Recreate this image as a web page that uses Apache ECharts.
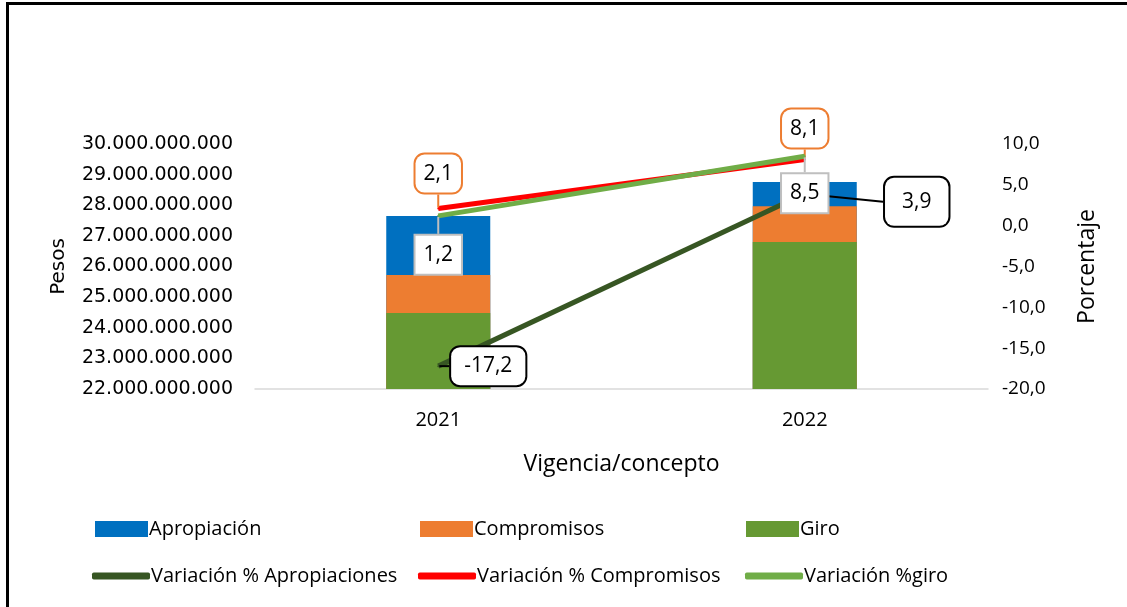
<!DOCTYPE html>
<html>
<head>
<meta charset="UTF-8">
<title>Vigencia/concepto</title>
<script src="https://cdn.jsdelivr.net/npm/echarts@6/dist/echarts.min.js"></script>
<style>
	body{margin:0;background:#fff;}
	#frame{position:absolute;left:6px;top:2px;width:1200px;height:700px;border-left:3px solid #000;border-top:3px solid #000;}
	#main{position:absolute;left:0;top:0;width:1127px;height:607px;}
</style>
</head>
<body>
<div id="frame"></div>
<div id="main"></div>
<script type="text/javascript">
	var years = ['2021', '2022'];
	var apropiacion = [27650000000, 28760000000];
	var compromisos = [25720000000, 27970000000];
	var giro = [24480000000, 26800000000];
	var varApropiaciones = [-17.2, 3.9];
	var varCompromisos = [2.1, 8.1];
	var varGiro = [1.2, 8.5];

	var fnt = 'Open Sans';
	function miles(v){
		return String(v).replace(/\B(?=(\d{3})+(?!\d))/g, '.');
	}
	function coma(v){
		return v.toFixed(1).replace('.', ',');
	}
	function callout(border, radius, pad){
		return {
			show: true, position: 'inside', color: '#000', fontFamily: fnt, fontSize: 21,
			backgroundColor: '#fff', borderColor: border, borderWidth: 2,
			borderRadius: radius, padding: pad,
			formatter: function(p){ return coma(p.value); }
		};
	}
	function legendBox(name, x, y, line){
		return {
			data: [name], left: x, top: y, icon: line ? 'roundRect' : 'rect',
			itemWidth: line ? 58 : 53, itemHeight: line ? 7 : 16, itemGap: 0,
			textStyle: {fontFamily: fnt, fontSize: 20, color: '#000', padding: [0, 0, 0, -4]}
		};
	}
	// la etiqueta de 2022 en apropiaciones es mas grande
	var apropData = varApropiaciones.map(function(v, i){
		return i === 1 ? {value: v, label: {padding: [14, 17, 13, 17]}} : v;
	});

	var myChart = echarts.init(document.getElementById('main'));
	var option = {
		animation: false,
		grid: {left: 255, right: 139, top: 144, bottom: 218},
		legend: [
			legendBox('Apropiación', 90, 514, false),
			legendBox('Compromisos', 415, 514, false),
			legendBox('Giro', 741, 514, false),
			legendBox('Variación % Apropiaciones', 87, 561, true),
			legendBox('Variación % Compromisos', 413, 561, true),
			legendBox('Variación %giro', 740, 561, true)
		],
		xAxis: {
			type: 'category', data: years,
			name: 'Vigencia/concepto', nameLocation: 'middle', nameGap: 64,
			nameTextStyle: {fontFamily: fnt, fontSize: 23, color: '#000'},
			axisLine: {onZero: false, lineStyle: {color: '#d9d9d9', width: 1.5}},
			axisTick: {show: false},
			axisLabel: {fontFamily: fnt, fontSize: 20, color: '#000', margin: 21}
		},
		yAxis: [{
			type: 'value', min: 22000000000, max: 30000000000, interval: 1000000000,
			name: 'Pesos', nameLocation: 'middle', nameRotate: 90, nameGap: 186,
			nameTextStyle: {fontFamily: 'DejaVu Sans', fontSize: 20, color: '#000'},
			splitLine: {show: false},
			axisLabel: {fontFamily: 'DejaVu Sans', fontSize: 19, color: '#000', margin: 22, formatter: miles}
		}, {
			type: 'value', min: -20, max: 10, interval: 5,
			name: 'Porcentaje', nameLocation: 'middle', nameRotate: 90, nameGap: 88,
			nameTextStyle: {fontFamily: fnt, fontSize: 23, color: '#000'},
			splitLine: {show: false},
			axisLabel: {fontFamily: fnt, fontSize: 19, color: '#000', margin: 14, formatter: coma}
		}],
		series: [
			{name: 'Apropiación', type: 'bar', data: apropiacion, barWidth: 104, barGap: '-100%',
				itemStyle: {color: '#0070c0'}},
			{name: 'Compromisos', type: 'bar', data: compromisos, barWidth: 104, barGap: '-100%',
				itemStyle: {color: '#ed7d31'}},
			{name: 'Giro', type: 'bar', data: giro, barWidth: 104, barGap: '-100%',
				itemStyle: {color: '#669933'}},
			{name: 'Variación % Apropiaciones', type: 'line', yAxisIndex: 1, data: apropData,
				symbol: 'circle', symbolSize: 2, z: 5,
				lineStyle: {color: '#375623', width: 5}, itemStyle: {color: '#375623'},
				label: callout('#000', 9, [9, 13, 8, 13]),
				labelLine: {show: true, lineStyle: {color: '#000', width: 2}},
				labelLayout: function(p){ return p.dataIndex === 0 ? {dx: 50, dy: 0} : {dx: 112, dy: 8}; }},
			{name: 'Variación % Compromisos', type: 'line', yAxisIndex: 1, data: varCompromisos,
				symbol: 'circle', symbolSize: 2, z: 6,
				lineStyle: {color: '#ff0000', width: 5}, itemStyle: {color: '#ff0000'},
				label: callout('#ed7d31', 9, [9, 8, 8, 8]),
				labelLine: {show: true, lineStyle: {color: '#ed7d31', width: 2}},
				labelLayout: function(p){ return p.dataIndex === 0 ? {dx: 0, dy: -35} : {dx: 0, dy: -31}; }},
			{name: 'Variación %giro', type: 'line', yAxisIndex: 1, data: varGiro,
				symbol: 'circle', symbolSize: 2, z: 7,
				lineStyle: {color: '#70ad47', width: 5}, itemStyle: {color: '#70ad47'},
				label: callout('#bfbfbf', 0, [9, 8, 8, 8]),
				labelLine: {show: true, lineStyle: {color: '#bfbfbf', width: 2}},
				labelLayout: function(p){ return p.dataIndex === 0 ? {dx: 0, dy: 39} : {dx: 0, dy: 37}; }}
		]
	};
	myChart.setOption(option);
</script>
</body>
</html>
